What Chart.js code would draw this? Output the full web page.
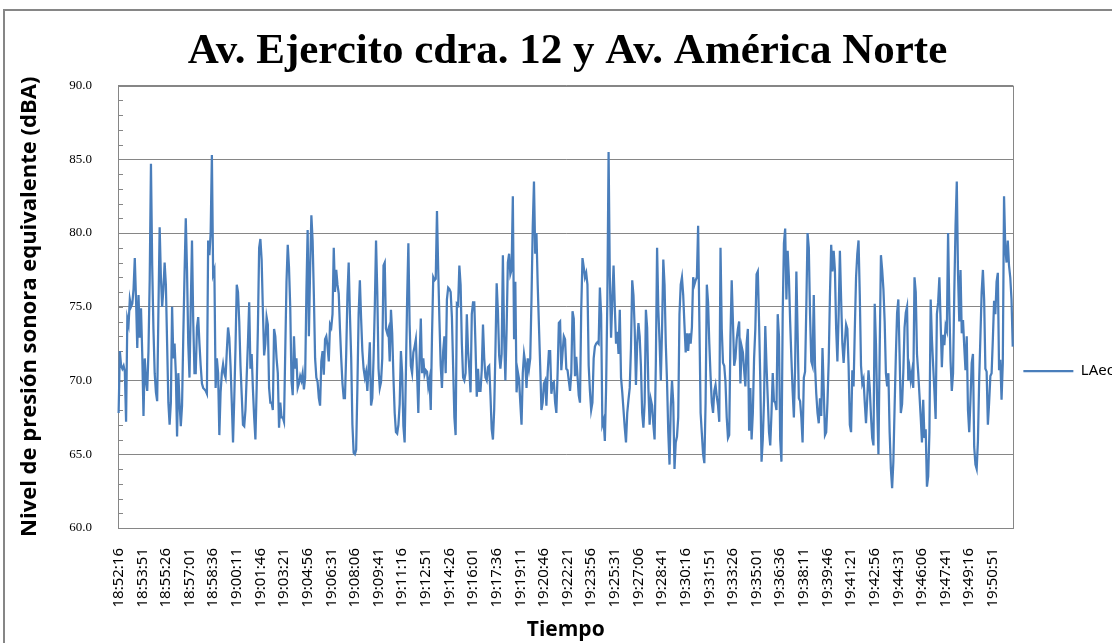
<!DOCTYPE html>
<html>
<head>
<meta charset="utf-8">
<script src="https://cdn.jsdelivr.net/npm/chart.js@4.4.1/dist/chart.umd.min.js"></script>
<style>
  html, body { margin: 0; padding: 0; background: #fff; overflow: hidden; width: 1112px; height: 643px; }
  #marco { position: absolute; left: 3px; top: 9px; width: 1140px; height: 680px; border: 2px solid #868686; background: #fff; }
  #lienzo { position: absolute; left: 0; top: 0; }
</style>
</head>
<body>
<div id="marco"><canvas id="lienzo" width="1124" height="632"></canvas></div>
<script>
// --- DATOS ---
const titulo = 'Av. Ejercito cdra. 12 y Av. América Norte';
const tituloY = 'Nivel de presión sonora equivalente (dBA)';
const tituloX = 'Tiempo';
const serie = 'LAeq';
const horaInicio = '18:52:16';   // primera medición
const pasoSegundos = 5;          // una medición cada 5 s
const cadaEtiqueta = 19;         // Excel muestra una etiqueta cada 19 categorías
const ejeY = { min: 60, max: 90, paso: 5 };

// LAeq (dBA), una fila = 19 mediciones (95 s)
const laeq = [
  67.8, 72.0, 71.0, 70.8, 71.0, 70.6, 67.2, 74.2, 73.8, 75.5, 75.0, 75.2, 76.2, 78.3, 75.5, 72.2, 75.8, 72.9, 74.9,
  71.8, 67.6, 71.5, 70.0, 69.3, 72.0, 76.9, 84.7, 77.8, 73.5, 70.5, 69.2, 68.6, 74.7, 80.4, 77.0, 75.0, 76.2, 78.0,
  76.5, 72.5, 68.5, 67.0, 68.5, 75.0, 71.5, 72.5, 70.5, 66.2, 70.5, 68.5, 66.9, 68.3, 73.0, 77.2, 81.0, 77.5, 72.5,
  70.2, 75.0, 79.5, 74.0, 70.5, 70.5, 73.6, 74.3, 72.5, 71.0, 69.8, 69.5, 69.4, 69.3, 69.1, 79.5, 78.5, 80.0, 85.3,
  77.2, 77.5, 69.5, 71.5, 70.5, 66.3, 69.2, 70.5, 71.1, 70.5, 70.2, 72.0, 73.6, 72.9, 71.0, 68.5, 65.8, 68.8, 72.3,
  76.5, 76.0, 74.0, 71.0, 69.0, 67.0, 66.9, 68.0, 70.3, 72.6, 75.3, 70.8, 71.8, 69.4, 67.5, 66.0, 69.5, 73.6, 79.0,
  79.6, 78.2, 74.8, 71.7, 72.5, 74.3, 73.8, 69.5, 68.5, 68.5, 68.0, 73.5, 73.0, 71.5, 70.5, 66.8, 68.5, 67.5, 67.5,
  67.2, 72.0, 76.7, 79.2, 77.7, 75.0, 70.0, 69.0, 73.0, 70.8, 71.5, 69.5, 69.8, 70.3, 70.0, 70.5, 69.4, 70.2, 76.0,
  80.2, 73.0, 77.6, 81.2, 79.5, 75.8, 71.5, 70.2, 69.9, 68.8, 68.3, 71.3, 72.0, 70.4, 72.8, 73.0, 72.3, 71.3, 73.8,
  73.6, 74.5, 79.0, 76.0, 77.5, 76.5, 75.9, 73.5, 71.5, 69.8, 68.8, 68.8, 71.8, 75.8, 78.0, 74.5, 71.6, 67.0, 65.1,
  65.0, 65.3, 69.5, 74.5, 76.8, 74.2, 72.0, 70.8, 70.2, 70.6, 69.3, 70.9, 72.6, 68.3, 68.8, 71.5, 75.0, 79.5, 76.0,
  70.8, 69.5, 69.9, 71.5, 77.8, 78.0, 73.5, 73.2, 73.5, 71.3, 74.8, 73.2, 70.2, 67.8, 66.5, 66.4, 67.0, 68.4, 72.0,
  70.5, 66.9, 65.8, 70.5, 75.5, 79.3, 73.8, 71.0, 70.5, 71.9, 72.3, 72.8, 70.5, 67.8, 71.5, 74.2, 70.5, 71.5, 70.4,
  70.7, 70.6, 69.6, 70.1, 68.0, 73.0, 77.0, 76.8, 76.9, 81.5, 77.5, 74.0, 71.0, 69.5, 72.0, 73.0, 70.5, 75.5, 76.3,
  76.2, 76.0, 74.3, 70.9, 67.5, 66.3, 75.2, 75.1, 77.8, 76.5, 72.5, 70.2, 70.0, 70.5, 74.5, 72.0, 70.8, 69.2, 74.5,
  75.3, 75.3, 72.3, 68.9, 70.8, 69.3, 69.3, 70.7, 73.8, 71.5, 70.2, 70.0, 70.9, 71.0, 69.0, 66.7, 66.0, 68.0, 72.0,
  76.6, 74.7, 71.7, 70.8, 71.8, 78.5, 73.0, 70.0, 73.5, 78.0, 78.6, 77.2, 77.5, 82.5, 72.8, 76.7, 69.2, 70.6, 70.1,
  68.5, 67.0, 70.5, 71.8, 71.2, 69.5, 71.5, 70.8, 71.5, 75.5, 80.4, 83.5, 78.6, 80.0, 76.5, 73.7, 71.0, 68.0, 68.5,
  69.8, 70.0, 68.3, 70.5, 72.0, 72.0, 69.1, 69.8, 69.9, 68.5, 67.8, 70.5, 73.9, 74.0, 70.7, 71.9, 73.0, 72.8, 70.8,
  70.7, 70.0, 69.3, 70.5, 74.7, 74.2, 70.3, 71.6, 70.3, 69.0, 68.5, 74.8, 78.3, 77.7, 77.0, 77.3, 76.5, 71.0, 69.3,
  68.0, 68.5, 71.5, 72.3, 72.5, 72.6, 72.5, 76.3, 74.5, 67.0, 67.3, 65.9, 69.5, 75.5, 85.5, 77.0, 72.9, 75.5, 77.8,
  75.0, 72.5, 73.3, 71.8, 74.8, 70.2, 69.2, 68.0, 66.8, 65.8, 67.8, 68.7, 69.5, 72.2, 76.8, 75.8, 73.5, 69.7, 72.5,
  73.9, 73.0, 71.0, 67.8, 66.8, 68.5, 74.8, 73.6, 69.5, 67.0, 68.7, 68.3, 67.0, 66.0, 71.2, 79.0, 74.8, 72.6, 70.0,
  73.5, 78.2, 76.5, 72.5, 69.9, 66.5, 64.3, 68.2, 70.0, 68.5, 64.0, 65.8, 66.2, 67.5, 74.5, 76.5, 77.0, 75.8, 73.8,
  71.9, 73.2, 72.0, 73.2, 72.5, 73.6, 77.0, 76.5, 76.8, 77.0, 80.5, 74.0, 67.8, 66.4, 65.0, 64.4, 68.5, 76.5, 75.3,
  72.5, 70.3, 68.5, 67.8, 69.3, 69.7, 68.9, 68.3, 67.2, 79.0, 73.5, 71.2, 71.0, 69.9, 67.5, 66.1, 66.3, 73.0, 76.8,
  74.0, 71.0, 71.5, 72.8, 73.5, 74.0, 69.8, 72.3, 71.9, 70.7, 69.6, 72.5, 73.5, 66.6, 69.5, 66.0, 67.8, 71.5, 73.5,
  77.2, 77.4, 74.0, 70.0, 64.5, 66.0, 68.7, 73.7, 71.0, 68.8, 66.5, 65.6, 67.8, 70.5, 68.6, 68.5, 68.0, 74.5, 73.0,
  66.0, 64.5, 74.5, 79.3, 80.3, 75.5, 78.8, 77.0, 74.0, 71.5, 69.3, 67.5, 71.0, 77.4, 73.2, 68.8, 68.6, 67.5, 65.8,
  70.2, 70.6, 75.0, 80.0, 79.0, 74.5, 71.3, 71.0, 75.8, 71.0, 69.1, 67.8, 67.1, 68.8, 67.6, 72.2, 69.4, 66.3, 66.5,
  68.5, 71.3, 75.8, 79.2, 77.4, 78.8, 77.5, 73.5, 71.3, 74.5, 78.8, 75.5, 72.5, 71.2, 72.6, 73.8, 73.5, 71.0, 67.0,
  66.5, 70.7, 69.6, 73.5, 77.0, 78.6, 79.5, 75.8, 71.0, 69.8, 70.1, 68.5, 67.1, 68.8, 70.7, 69.5, 67.6, 66.1, 65.6,
  75.2, 72.5, 68.3, 65.0, 72.0, 78.5, 77.5, 76.2, 74.0, 70.5, 69.6, 70.5, 66.5, 64.0, 62.7, 64.5, 68.2, 71.7, 74.6,
  75.5, 71.8, 67.8, 68.4, 70.6, 73.6, 74.6, 75.0, 70.0, 70.8, 70.0, 70.6, 69.5, 77.0, 76.0, 71.8, 70.5, 69.0, 67.5,
  65.8, 68.7, 66.1, 66.7, 62.8, 63.5, 66.5, 75.5, 72.8, 71.0, 69.3, 67.4, 74.5, 75.3, 77.0, 74.0, 70.9, 73.1, 72.4,
  73.7, 73.4, 80.0, 75.0, 71.3, 69.3, 70.5, 76.0, 80.5, 83.5, 77.2, 74.0, 77.5, 73.2, 74.1, 72.3, 70.7, 73.0, 68.0,
  66.5, 68.7, 71.2, 71.8, 65.5, 64.3, 64.0, 65.9, 70.0, 73.0, 76.0, 77.5, 75.5, 70.8, 70.6, 67.0, 68.5, 70.3, 70.5,
  72.8, 75.4, 74.5, 76.7, 77.3, 70.7, 71.4, 68.7, 71.2, 82.5, 79.0, 78.0, 79.5, 77.8, 77.0, 75.5, 72.3
];

// categorías: hora de cada medición
function aHora(seg) {
  const h = Math.floor(seg / 3600), m = Math.floor(seg / 60) % 60, s = seg % 60;
  return h + ':' + String(m).padStart(2, '0') + ':' + String(s).padStart(2, '0');
}
const [h0, m0, s0] = horaInicio.split(':').map(Number);
const tiempos = laeq.map((_, i) => aHora(h0 * 3600 + m0 * 60 + s0 + i * pasoSegundos));

const gris = '#868686';

// marco del área de trazado + marcas menores del eje Y (cada 1 dBA)
const marcoArea = {
  id: 'marcoArea',
  beforeDatasetsDraw(chart) {
    const { ctx, chartArea: a, scales: { y } } = chart;
    ctx.save();
    ctx.strokeStyle = gris;
    ctx.lineWidth = 1;
    ctx.strokeRect(Math.round(a.left) + 0.5, Math.round(a.top) + 0.5, Math.round(a.width), Math.round(a.height));
    ctx.beginPath();
    for (let v = ejeY.min; v <= ejeY.max; v++) {
      const py = Math.round(y.getPixelForValue(v)) + 0.5;
      ctx.moveTo(a.left, py);
      ctx.lineTo(a.left + 5, py);
    }
    ctx.stroke();
    ctx.restore();
  }
};

new Chart(document.getElementById('lienzo'), {
  type: 'line',
  data: {
    labels: tiempos,
    datasets: [{
      label: serie,
      data: laeq,
      borderColor: '#4a7ebb',
      backgroundColor: '#4a7ebb',
      borderWidth: 2.25,
      pointRadius: 0,
      tension: 0,
      fill: false
    }]
  },
  options: {
    responsive: false,
    animation: false,
    layout: { padding: { left: 4, right: 3, top: 0, bottom: 0 } },
    plugins: {
      title: {
        display: true,
        text: titulo,
        color: '#000',
        font: { family: 'Liberation Serif', size: 43, weight: 'bold', lineHeight: 1.2 },
        padding: { top: 15, bottom: 8 }
      },
      legend: {
        position: 'right',
        // título vacío: solo baja la entrada de la leyenda a la altura del original
        title: { display: true, text: '', font: { size: 12 }, padding: { top: 74, bottom: 0 } },
        labels: {
          usePointStyle: true,
          pointStyle: 'line',
          pointStyleWidth: 50,
          color: '#000',
          font: { family: 'Noto Sans', size: 15 },
          padding: 10
        }
      },
      tooltip: { enabled: false }
    },
    scales: {
      x: {
        offset: true,
        grid: { display: false },
        border: { display: true, color: gris },
        ticks: {
          autoSkip: false,
          minRotation: 90,
          maxRotation: 90,
          padding: 12,
          color: '#000',
          font: { family: 'Noto Sans', size: 15 },
          callback: (v, i) => (i % cadaEtiqueta === 0 ? tiempos[i] : null)
        },
        title: {
          display: true,
          text: tituloX,
          color: '#000',
          font: { family: 'Open Sans', size: 21, weight: 'bold' },
          padding: { top: 4, bottom: 0 }
        },
        afterFit: (s) => { s.height = 115; }
      },
      y: {
        min: ejeY.min,
        max: ejeY.max,
        grid: { color: gris, lineWidth: 1, drawTicks: false },
        border: { display: true, color: gris },
        ticks: {
          stepSize: ejeY.paso,
          padding: 26,
          color: '#000',
          font: { family: 'Liberation Serif', size: 13 },
          callback: (v) => v.toFixed(1)
        },
        title: {
          display: true,
          text: tituloY,
          color: '#000',
          font: { family: 'Open Sans', size: 22, weight: 'bold' },
          padding: { top: 8, bottom: 0 }
        },
        afterFit: (s) => { s.width = 109; }
      }
    }
  },
  plugins: [marcoArea]
});
</script>
</body>
</html>
